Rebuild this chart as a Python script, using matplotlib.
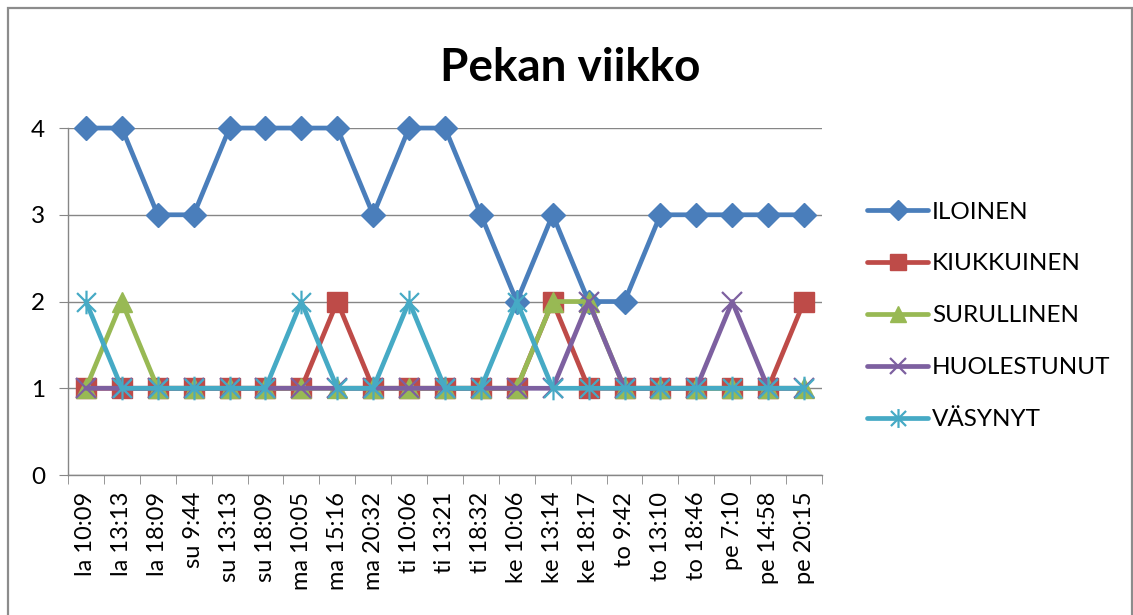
import logging
import matplotlib
matplotlib.use('Agg')
import matplotlib.pyplot as plt
from matplotlib.path import Path
from matplotlib.patches import Rectangle

logging.basicConfig(level=logging.INFO, format='%(levelname)s : %(message)s')

# Data
times = ['la 10:09', 'la 13:13', 'la 18:09', 'su 9:44', 'su 13:13', 'su 18:09',
         'ma 10:05', 'ma 15:16', 'ma 20:32', 'ti 10:06', 'ti 13:21', 'ti 18:32',
         'ke 10:06', 'ke 13:14', 'ke 18:17', 'to 9:42', 'to 13:10', 'to 18:46',
         'pe 7:10', 'pe 14:58', 'pe 20:15']

iloinen     = [4, 4, 3, 3, 4, 4, 4, 4, 3, 4, 4, 3, 2, 3, 2, 2, 3, 3, 3, 3, 3]
kiukkuinen  = [1, 1, 1, 1, 1, 1, 1, 2, 1, 1, 1, 1, 1, 2, 1, 1, 1, 1, 1, 1, 2]
surullinen  = [1, 2, 1, 1, 1, 1, 1, 1, 1, 1, 1, 1, 1, 2, 2, 1, 1, 1, 1, 1, 1]
huolestunut = [1, 1, 1, 1, 1, 1, 1, 1, 1, 1, 1, 1, 1, 1, 2, 1, 1, 1, 2, 1, 1]
vasynyt     = [2, 1, 1, 1, 1, 1, 2, 1, 1, 2, 1, 1, 2, 1, 1, 1, 1, 1, 1, 1, 1]

series_names = ['ILOINEN', 'KIUKKUINEN', 'SURULLINEN', 'HUOLESTUNUT', 'VÄSYNYT']
yticks = [0, 1, 2, 3, 4]

# Excel star marker: x with a vertical bar
STAR = Path([(-1, -1), (1, 1), (-1, 1), (1, -1), (0, -1.25), (0, 1.25)],
            [Path.MOVETO, Path.LINETO, Path.MOVETO, Path.LINETO, Path.MOVETO, Path.LINETO])

STYLES = [
    dict(color='#4A7EBB', marker='D', markersize=12.5),
    dict(color='#BE4B48', marker='s', markersize=15),
    dict(color='#98B954', marker='^', markersize=15),
    dict(color='#7D60A0', marker='x', markersize=14, markeredgewidth=1.6),
    dict(color='#46AAC5', marker=STAR, markersize=17, markeredgewidth=1.6),
]

FONT = 'Lato'
GRAY = '#868686'


def create_chart():
    logging.info("Creating chart...")
    fig = plt.figure(figsize=(11.33, 6.15), dpi=100)
    fig.patch.set_facecolor('white')

    # chart border
    fig.add_artist(Rectangle((0.007, -0.02), 0.992, 1.007, transform=fig.transFigure,
                             fill=False, edgecolor='#8c8c8c', linewidth=1.6))

    ax = fig.add_axes([0.060, 0.2276, 0.6655, 0.5642])
    x = list(range(len(times)))
    all_values = [iloinen, kiukkuinen, surullinen, huolestunut, vasynyt]

    for i, (name, values) in enumerate(zip(series_names, all_values)):
        st = STYLES[i]
        ax.plot(x, values, label=name, linewidth=3.4, color=st['color'],
                marker=st['marker'], markersize=st['markersize'],
                markeredgewidth=st.get('markeredgewidth', 1.0),
                markeredgecolor=st['color'], markerfacecolor=st['color'],
                clip_on=False, zorder=3 + i, solid_joinstyle='round',
                solid_capstyle='round')

    ax.set_xlim(-0.5, len(times) - 0.5)
    ax.set_ylim(0, 4)
    ax.set_yticks(yticks)
    ax.set_yticklabels([str(v) for v in yticks], fontsize=17.5, family=FONT)
    ax.set_xticks(x)
    ax.set_xticklabels(times, rotation=90, fontsize=17, family=FONT)
    ax.set_xticks([v - 0.5 for v in range(len(times) + 1)], minor=True)

    ax.tick_params(axis='x', which='major', length=0, pad=12)
    ax.tick_params(axis='x', which='minor', length=6.5, color=GRAY, direction='out')
    ax.tick_params(axis='y', which='major', length=6.5, color=GRAY, pad=10)

    ax.yaxis.grid(True, color=GRAY, linewidth=1.0)
    ax.set_axisbelow(True)
    for side in ['top', 'right']:
        ax.spines[side].set_visible(False)
    for side in ['left', 'bottom']:
        ax.spines[side].set_color(GRAY)
        ax.spines[side].set_linewidth(1.0)

    fig.text(0.503, 0.89, 'Pekan viikko', ha='center', va='center',
             fontsize=33, fontweight='bold', family=FONT)

    leg = fig.legend(loc='upper left', bbox_to_anchor=(0.757, 0.688), frameon=False,
                     prop={'family': FONT, 'size': 17.5}, labelspacing=1.27,
                     handlelength=2.5, handletextpad=0.15, borderaxespad=0)
    for h in leg.legend_handles:
        h.set_markersize(h.get_markersize() * 0.8)

    fig.savefig('out.png', dpi=100)
    logging.info("Saved: out.png")


def main():
    try:
        create_chart()
    except Exception as e:
        logging.error("Error: " + str(e))
        import traceback
        traceback.print_exc()


if __name__ == "__main__":
    main()
